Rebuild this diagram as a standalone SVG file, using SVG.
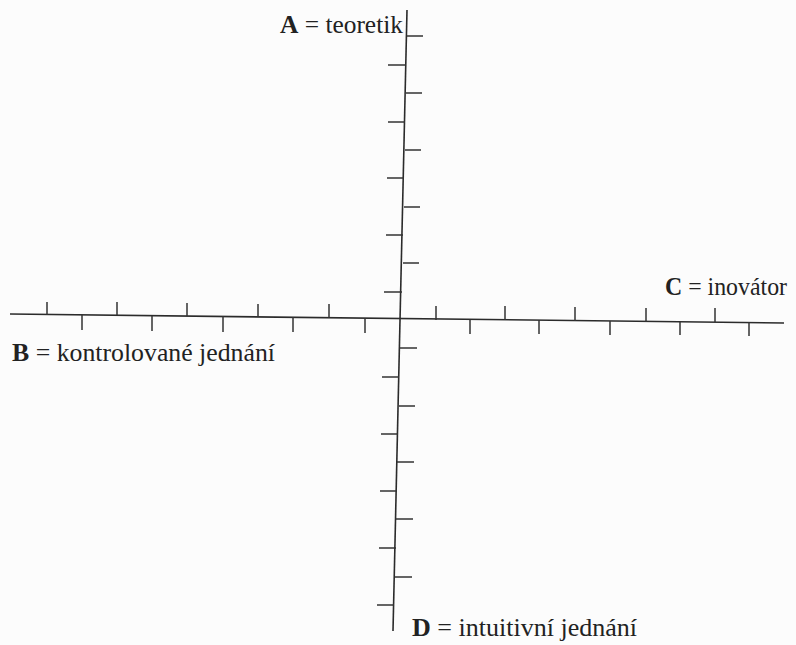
<svg xmlns="http://www.w3.org/2000/svg" width="796" height="645" viewBox="0 0 796 645">
<style>
.ax{stroke:#2b2b2b;stroke-width:1.6;fill:none}
.tk{stroke:#333;stroke-width:1.5;fill:none}
.lb{font-family:'Liberation Serif','DejaVu Serif',serif;font-size:25px;fill:#222}
.b{font-weight:bold}
</style>
<rect width="796" height="645" fill="#fcfcfc"/>
<g id="axes">
<line class="ax" x1="407" y1="10" x2="393" y2="631"/>
<line class="ax" x1="10" y1="314" x2="784" y2="323"/>
</g>
<g id="ticks-vertical" class="tk">
<line x1="407" y1="36" x2="423" y2="36"/>
<line x1="388" y1="65" x2="406" y2="65"/>
<line x1="406" y1="93" x2="422" y2="93"/>
<line x1="388" y1="122" x2="405" y2="122"/>
<line x1="405" y1="150" x2="421" y2="150"/>
<line x1="387" y1="178" x2="404" y2="178"/>
<line x1="404" y1="207" x2="420" y2="207"/>
<line x1="386" y1="235" x2="403" y2="235"/>
<line x1="403" y1="263" x2="419" y2="263"/>
<line x1="384" y1="292" x2="402" y2="292"/>
<line x1="400" y1="348" x2="417" y2="348"/>
<line x1="382" y1="377" x2="399" y2="377"/>
<line x1="399" y1="406" x2="415" y2="406"/>
<line x1="381" y1="434" x2="398" y2="434"/>
<line x1="397" y1="462" x2="414" y2="462"/>
<line x1="380" y1="491" x2="397" y2="491"/>
<line x1="396" y1="519" x2="413" y2="519"/>
<line x1="379" y1="548" x2="396" y2="548"/>
<line x1="395" y1="577" x2="412" y2="577"/>
<line x1="377" y1="605" x2="394" y2="605"/>
</g>
<g id="ticks-horizontal" class="tk">
<line x1="47" y1="302" x2="47" y2="315"/>
<line x1="117" y1="302" x2="117" y2="315"/>
<line x1="187" y1="303" x2="187" y2="316"/>
<line x1="258" y1="304" x2="258" y2="317"/>
<line x1="329" y1="304" x2="329" y2="318"/>
<line x1="436" y1="306" x2="436" y2="320"/>
<line x1="505" y1="306" x2="505" y2="320"/>
<line x1="575" y1="307" x2="575" y2="321"/>
<line x1="646" y1="308" x2="646" y2="322"/>
<line x1="715" y1="308" x2="715" y2="322"/>
<line x1="82" y1="315" x2="82" y2="330"/>
<line x1="152" y1="316" x2="152" y2="331"/>
<line x1="223" y1="316" x2="223" y2="332"/>
<line x1="293" y1="317" x2="293" y2="332"/>
<line x1="365" y1="318" x2="365" y2="333"/>
<line x1="470" y1="320" x2="470" y2="334"/>
<line x1="539" y1="320" x2="539" y2="334"/>
<line x1="610" y1="321" x2="610" y2="335"/>
<line x1="680" y1="322" x2="680" y2="335"/>
<line x1="749" y1="322" x2="749" y2="336"/>
</g>
<g id="label-A"><text class="lb" x="280" y="33" textLength="123" lengthAdjust="spacingAndGlyphs"><tspan class="b">A</tspan> = teoretik</text></g>
<g id="label-B"><text class="lb" x="12" y="361" textLength="263" lengthAdjust="spacingAndGlyphs"><tspan class="b">B</tspan> = kontrolované jednání</text></g>
<g id="label-C"><text class="lb" x="665" y="295" textLength="122" lengthAdjust="spacingAndGlyphs"><tspan class="b">C</tspan> = inovátor</text></g>
<g id="label-D"><text class="lb" x="412" y="636" textLength="225" lengthAdjust="spacingAndGlyphs"><tspan class="b">D</tspan> = intuitivní jednání</text></g>
</svg>
